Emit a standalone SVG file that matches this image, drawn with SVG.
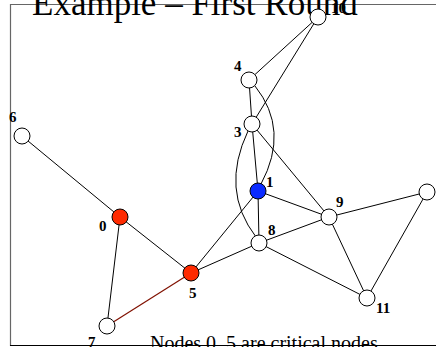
<svg xmlns="http://www.w3.org/2000/svg" width="436" height="347" viewBox="0 0 436 347">
<style>
.n{fill:#fff;stroke:#000;stroke-width:1}
.red{fill:#ff2a00}
.blue{fill:#0a2aff}
.e{stroke:#000;stroke-width:1;fill:none}
.lb{font-family:"Liberation Serif",serif;font-weight:bold;font-size:15px;fill:#000}
</style>
<rect width="436" height="347" fill="#fff"/>
<g id="frame">
<line x1="10" y1="4.5" x2="436" y2="4.5" stroke="#666" stroke-width="1.2"/>
<line x1="10.5" y1="4" x2="10.5" y2="346" stroke="#666" stroke-width="1.2"/>
<line x1="10" y1="345.5" x2="436" y2="345.5" stroke="#000" stroke-width="1.2"/>
</g>
<g id="connectors">
<line class="e" x1="318" y1="17" x2="249" y2="80"/>
<line class="e" x1="318" y1="17" x2="252" y2="124"/>
<line class="e" x1="249" y1="80" x2="252" y2="124"/>
<path class="e" d="M255 86 Q290 130 261 184"/>
<path class="e" d="M248 131 Q220 190 256 237"/>
<line class="e" x1="252" y1="124" x2="258" y2="191"/>
<line class="e" x1="252" y1="124" x2="329" y2="217"/>
<line class="e" x1="258" y1="191" x2="329" y2="217"/>
<line class="e" x1="258" y1="191" x2="259" y2="243"/>
<line class="e" x1="258" y1="191" x2="191" y2="273"/>
<line class="e" x1="259" y1="243" x2="329" y2="217"/>
<line class="e" x1="259" y1="243" x2="191" y2="273"/>
<line class="e" x1="259" y1="243" x2="367" y2="298"/>
<line class="e" x1="329" y1="217" x2="427" y2="192"/>
<line class="e" x1="329" y1="217" x2="367" y2="298"/>
<line class="e" x1="427" y1="192" x2="367" y2="298"/>
<line class="e" x1="22" y1="136" x2="120" y2="217"/>
<line class="e" x1="120" y1="217" x2="191" y2="273"/>
<line class="e" x1="120" y1="217" x2="107" y2="326"/>
<line x1="107" y1="326" x2="191" y2="273" stroke="#801000" stroke-width="1.2"/>
</g>
<g id="title"><text x="32" y="15" font-family="Liberation Serif,serif" font-size="35" fill="#000">Example – First Round</text></g>
<g id="node10"><circle class="n" cx="318" cy="17" r="8"/><text class="lb" x="331" y="13">10</text></g>
<g id="node4"><circle class="n" cx="249" cy="80" r="8"/><text class="lb" x="234" y="71">4</text></g>
<g id="node3"><circle class="n" cx="252" cy="124" r="8"/><text class="lb" x="234" y="137">3</text></g>
<g id="node1"><circle class="n blue" cx="258" cy="191" r="8"/><text class="lb" x="266" y="187">1</text></g>
<g id="node9"><circle class="n" cx="329" cy="217" r="8"/><text class="lb" x="336" y="207">9</text></g>
<g id="node8"><circle class="n" cx="259" cy="243" r="8"/><text class="lb" x="268" y="235">8</text></g>
<g id="node2"><circle class="n" cx="427" cy="192" r="8"/></g>
<g id="node11"><circle class="n" cx="367" cy="298" r="8"/><text class="lb" x="376" y="313">11</text></g>
<g id="node6"><circle class="n" cx="22" cy="136" r="8"/><text class="lb" x="9" y="122">6</text></g>
<g id="node0"><circle class="n red" cx="120" cy="217" r="8"/><text class="lb" x="99" y="231">0</text></g>
<g id="node5"><circle class="n red" cx="191" cy="273" r="8"/><text class="lb" x="189" y="298">5</text></g>
<g id="node7"><circle class="n" cx="107" cy="326" r="8"/><text class="lb" x="88" y="347">7</text></g>
<g id="caption"><text x="150" y="350" font-family="Liberation Serif,serif" font-size="20" fill="#000">Nodes 0, 5 are critical nodes</text></g>
</svg>
